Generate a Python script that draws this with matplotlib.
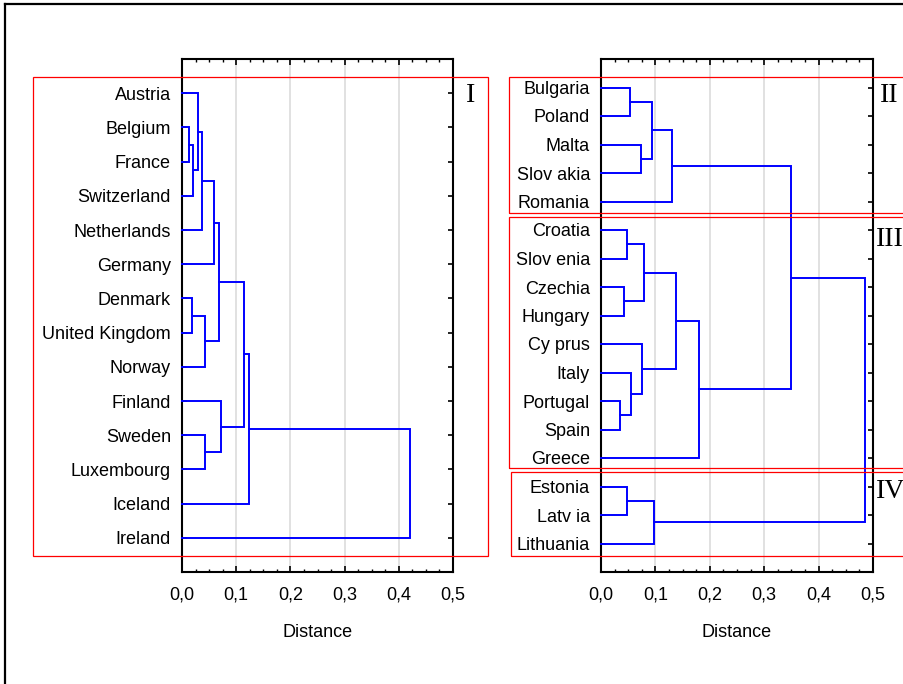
import matplotlib
matplotlib.use("Agg")
import matplotlib.pyplot as plt
from matplotlib.patches import Rectangle
from matplotlib.lines import Line2D
from matplotlib.ticker import MultipleLocator, FuncFormatter

plt.rcParams['font.family'] = ['Liberation Sans', 'DejaVu Sans']

# ---------------- data ----------------
left_leaves = ["Austria", "Belgium", "France", "Switzerland", "Netherlands",
               "Germany", "Denmark", "United Kingdom", "Norway", "Finland",
               "Sweden", "Luxembourg", "Iceland", "Ireland"]
# links: (child_a, child_b, distance); index >= n refers to earlier link n+k
left_links = [(1, 2, 0.012), (14, 3, 0.020), (0, 15, 0.029), (16, 4, 0.036),
              (17, 5, 0.0585), (6, 7, 0.0185), (19, 8, 0.042), (18, 20, 0.068),
              (10, 11, 0.042), (9, 22, 0.0726), (21, 23, 0.114), (24, 12, 0.123),
              (25, 13, 0.4205)]

right_leaves = ["Bulgaria", "Poland", "Malta", "Slov akia", "Romania",
                "Croatia", "Slov enia", "Czechia", "Hungary", "Cy prus",
                "Italy", "Portugal", "Spain", "Greece", "Estonia",
                "Latv ia", "Lithuania"]
right_links = [(0, 1, 0.053), (2, 3, 0.073), (17, 18, 0.093), (19, 4, 0.130),
               (5, 6, 0.047), (7, 8, 0.0414), (21, 22, 0.0794), (11, 12, 0.0346),
               (10, 24, 0.056), (9, 25, 0.0757), (23, 26, 0.1375), (27, 13, 0.180),
               (20, 28, 0.350), (14, 15, 0.047), (30, 16, 0.098), (29, 31, 0.485)]

x_ticks = [0.0, 0.1, 0.2, 0.3, 0.4, 0.5]
x_label = "Distance"
cluster_names = ["I", "II", "III", "IV"]

# ---------------- figure ----------------
W, H = 904, 684
fig = plt.figure(figsize=(W / 100, H / 100), dpi=100)


def fx(px):
    return px / W


def fy(py):
    return 1 - py / H


def draw_dendro(ax, leaves, links):
    n = len(leaves)
    pos = {i: (float(i), 0.0) for i in range(n)}
    for k, (a, b, h) in enumerate(links):
        ya, ha = pos[a]
        yb, hb = pos[b]
        ax.plot([ha, h, h, hb], [ya, ya, yb, yb], color="#0000ff", lw=1.4,
                solid_joinstyle="miter", zorder=3, clip_on=False)
        pos[n + k] = ((ya + yb) / 2, h)


def style_axes(ax, leaves):
    n = len(leaves)
    ax.set_xlim(0, 0.5)
    ax.set_ylim(n, -1)
    ax.set_yticks(range(n))
    ax.set_yticklabels(leaves)
    ax.set_xticks(x_ticks)
    ax.xaxis.set_minor_locator(MultipleLocator(0.025))
    ax.xaxis.set_major_formatter(FuncFormatter(lambda v, p: f"{v:.1f}".replace(".", ",")))
    ax.tick_params(axis="x", which="major", direction="in", length=4, width=1.2,
                   top=True, bottom=True, labelsize=13, pad=10.5, colors="black")
    ax.tick_params(axis="x", which="minor", direction="in", length=2, width=1.0,
                   top=True, bottom=True)
    ax.tick_params(axis="y", which="major", direction="in", length=3.5, width=1.2,
                   left=True, right=True, labelsize=13, pad=8, colors="black")
    for s in ax.spines.values():
        s.set_linewidth(1.5)
        s.set_color("black")
    ax.grid(axis="x", color="#d9d9d9", lw=1.1)
    ax.set_axisbelow(True)
    ax.set_xlabel(x_label, fontsize=13, labelpad=14.5)


ax1 = fig.add_axes([fx(182), fy(572), fx(453 - 182), (572 - 59) / H])
ax2 = fig.add_axes([fx(601), fy(572), fx(873 - 601), (572 - 59) / H])
draw_dendro(ax1, left_leaves, left_links)
draw_dendro(ax2, right_leaves, right_links)
style_axes(ax1, left_leaves)
style_axes(ax2, right_leaves)

# red cluster frames (pixel boxes)
boxes = [(33, 77, 488, 556), (509, 77, 912, 213), (509, 217, 912, 468),
         (511, 472, 912, 556)]
for x0, y0, x1, y1 in boxes:
    fig.add_artist(Rectangle((fx(x0), fy(y1)), fx(x1 - x0), (y1 - y0) / H,
                             transform=fig.transFigure, fill=False,
                             edgecolor="#ff0000", lw=0.9, zorder=10))

# cluster numerals
label_pos = [(466, 95), (880, 96), (876, 240), (876, 492)]
for name, (x, y) in zip(cluster_names, label_pos):
    fig.text(fx(x), fy(y), name, family="Liberation Serif", fontsize=20,
             ha="left", va="center", color="black")

# outer frame (partially visible)
fig.add_artist(Line2D([fx(5), fx(5)], [fy(4), 0], transform=fig.transFigure,
                      color="black", lw=1.6))
fig.add_artist(Line2D([fx(5), 1], [fy(4), fy(4)], transform=fig.transFigure,
                      color="black", lw=1.6))

fig.savefig("out.png", dpi=100)
